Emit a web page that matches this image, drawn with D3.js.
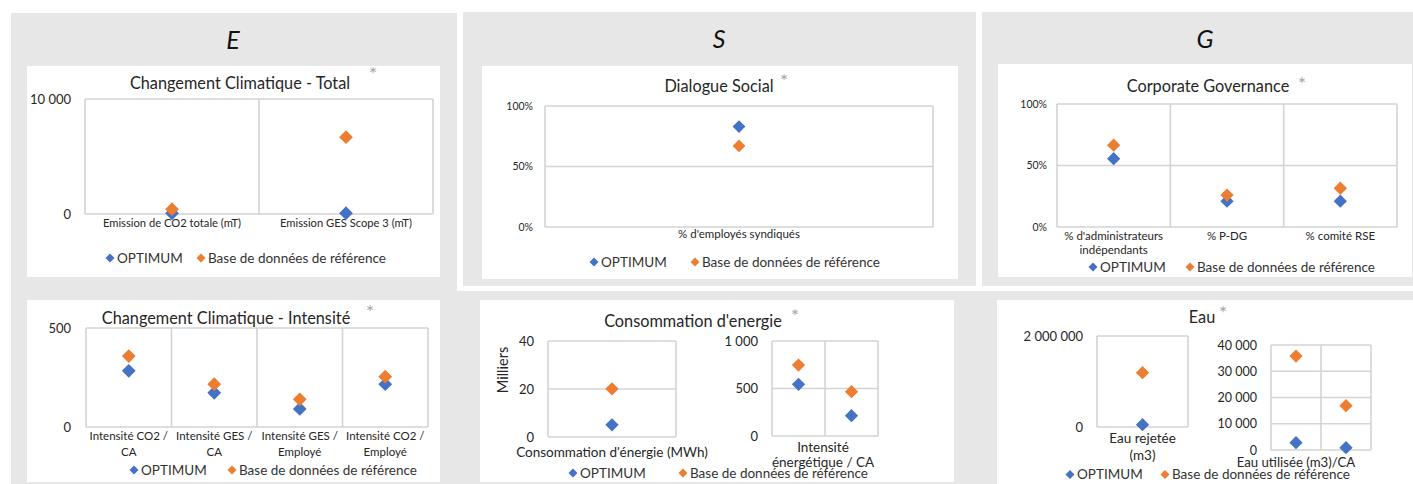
<!DOCTYPE html>
<html><head><meta charset="utf-8">
<script src="https://cdn.jsdelivr.net/npm/d3@7"></script>
<style>
body{margin:0;background:#fff;}
svg{display:block;}
text{font-family:Lato,"Open Sans",sans-serif;fill:#262626;}
</style>
</head><body>
<svg id="c" width="1413" height="484"></svg>
<script>
// ---------------- DATA ----------------
const seriesNames = ["OPTIMUM", "Base de données de référence"];
const seriesColors = ["#4472C4", "#ED7D31"];
const pillarLetters = ["E", "S", "G"];
const chartTitles = ["Changement Climatique - Total", "Dialogue Social", "Corporate Governance",
                     "Changement Climatique - Intensité", "Consommation d'energie", "Eau"];

const totalCategories = [["Emission de CO2 totale (mT)"], ["Emission GES Scope 3 (mT)"]];
const totalOptimum = [60, 70];
const totalReference = [420, 6680];
const totalTicks = [0, 10000];

const socialCategories = [["% d'employés syndiqués"]];
const socialOptimum = [0.83];
const socialReference = [0.67];
const pctTicks = [0, 0.5, 1];

const govCategories = [["% d'administrateurs", "indépendants"], ["% P-DG"], ["% comité RSE"]];
const govOptimum = [0.555, 0.21, 0.21];
const govReference = [0.665, 0.26, 0.315];

const intensityCategories = [["Intensité CO2 /", "CA"], ["Intensité GES /", "CA"], ["Intensité GES /", "Employé"], ["Intensité CO2 /", "Employé"]];
const intensityOptimum = [284, 173, 91, 216];
const intensityReference = [358, 216, 140, 254];
const intensityTicks = [0, 500];

const energyCategories = [["Consommation d'énergie (MWh)"]];
const energyOptimum = [5100];
const energyReference = [20100];
const energyTicks = [0, 20000, 40000];
const energyAxisTitle = "Milliers";

const energyIntCategories = [["Intensité", "énergétique / CA"], [""]];
const energyIntOptimum = [544, 214];
const energyIntReference = [747, 466];
const energyIntTicks = [0, 500, 1000];

const waterCategories = [["Eau rejetée", "(m3)"]];
const waterOptimum = [50000];
const waterReference = [1193000];
const waterTicks = [0, 2000000];

const waterIntCategories = [["Eau utilisée (m3)/CA"], [""]];
const waterIntOptimum = [2800, 900];
const waterIntReference = [35800, 16900];
const waterIntTicks = [0, 10000, 20000, 30000, 40000];

// ---------------- DRAW ----------------
const svg = d3.select("#c");
const grey = "#e7e7e7", gridCol = "#d3d3d3";
const loc = d3.formatLocale({decimal: ",", thousands: " ", grouping: [3], currency: ["", "€"]});
const numFmt = loc.format(",d");
const pctFmt = d3.format(".0%");
const kFmt = v => numFmt(v / 1000);

// backgrounds
[[11, 13, 446, 287], [463, 12, 513, 274], [982, 12, 431, 274], [11, 291, 1402, 193]]
  .forEach(r => svg.append("rect").attr("x", r[0]).attr("y", r[1]).attr("width", r[2]).attr("height", r[3]).attr("fill", grey));
[[27, 66, 413, 211], [482, 66, 476, 213], [998, 64, 414, 213], [27, 300, 413, 182], [480, 300, 474, 182], [997, 300, 416, 184]]
  .forEach(r => svg.append("rect").attr("x", r[0]).attr("y", r[1]).attr("width", r[2]).attr("height", r[3]).attr("fill", "#fff"));

// pillar letters
[[233, 49], [719, 48], [1205, 48]].forEach((p, i) =>
  svg.append("text").attr("x", p[0]).attr("y", p[1]).attr("text-anchor", "middle")
    .attr("font-size", 25).attr("font-style", "italic").style("fill", "#111").text(pillarLetters[i]));

function title(i, cx, by, sx, sy) {
  svg.append("text").attr("x", cx).attr("y", by).attr("text-anchor", "middle").attr("font-size", 16.3)
    .text(chartTitles[i]);
  const fs = 20;
  svg.append("text").attr("x", sx).attr("y", sy + 0.55 * fs).attr("text-anchor", "middle").attr("font-size", fs)
    .style("fill", "#a8a8a8").text("*");
}

function diamond(sel, size) {
  return sel.attr("d", d3.symbol().type(d3.symbolSquare).size(size)());
}

function plot(s) {
  const g = svg.append("g");
  const x = d3.scaleBand().domain(d3.range(s.cats.length)).range([s.x0, s.x1]);
  const y = d3.scaleLinear().domain([0, d3.max(s.ticks)]).range([s.y1, s.y0]);
  // horizontal grid
  g.selectAll(".hg").data(s.ticks).join("line")
    .attr("x1", s.x0).attr("x2", s.x1).attr("y1", d => y(d)).attr("y2", d => y(d))
    .attr("stroke", gridCol).attr("stroke-width", 1.6);
  // vertical lines (band edges)
  const edges = d3.range(s.cats.length + 1).map(i => i < s.cats.length ? x(i) : s.x1);
  g.selectAll(".vg").data(edges).join("line")
    .attr("x1", d => d).attr("x2", d => d).attr("y1", s.y0).attr("y2", s.y1)
    .attr("stroke", gridCol).attr("stroke-width", 1.6);
  // y axis
  const ax = g.append("g").attr("transform", `translate(${s.x0},0)`)
    .call(d3.axisLeft(y).tickValues(s.ticks).tickSize(0).tickPadding(s.pad).tickFormat(s.fmt));
  ax.select(".domain").remove();
  ax.selectAll("text").attr("font-size", s.tickSize).attr("font-family", null).style("fill", "#262626");
  // categories
  s.cats.forEach((lines, i) => {
    const cx = s.labelCx !== undefined ? s.labelCx : x(i) + x.bandwidth() / 2;
    lines.forEach((t, j) => {
      g.append("text").attr("x", cx).attr("y", s.catY + j * s.catGap).attr("text-anchor", "middle")
        .attr("font-size", s.catSize).text(t);
    });
  });
  // points
  [s.opt, s.ref].forEach((vals, k) => {
    g.selectAll(".p" + k).data(vals).join("path")
      .call(diamond, s.mSize || 88)
      .attr("transform", (d, i) => `translate(${x(i) + x.bandwidth() / 2},${y(d)}) rotate(45)`)
      .attr("fill", seriesColors[k]);
  });
  return g;
}

function legend(m1, m2, ly, size) {
  [m1, m2].forEach((mx, k) => {
    svg.append("path").call(diamond, 40).attr("transform", `translate(${mx},${ly}) rotate(45)`).attr("fill", seriesColors[k]);
    svg.append("text").attr("x", mx + 7).attr("y", ly).attr("dy", "0.36em").attr("font-size", size || 13.5)
      .style("fill", "#333").text(seriesNames[k]);
  });
}

// E top
title(0, 240, 89, 373, 70);
plot({x0: 85, x1: 433, y0: 99, y1: 214, cats: totalCategories, opt: totalOptimum, ref: totalReference,
      ticks: totalTicks, fmt: numFmt, pad: 14, tickSize: 13, catY: 227, catGap: 13, catSize: 11.2, mSize: 95});
legend(110, 201, 258);

// S top
title(1, 719, 92, 784, 77);
plot({x0: 545, x1: 933, y0: 106, y1: 227, cats: socialCategories, opt: socialOptimum, ref: socialReference,
      ticks: pctTicks, fmt: pctFmt, pad: 12, tickSize: 10.5, catY: 238, catGap: 13, catSize: 11.5, mSize: 82});
legend(594, 695, 262);

// G top
title(2, 1208, 92, 1302, 80);
plot({x0: 1057, x1: 1397, y0: 104, y1: 227, cats: govCategories, opt: govOptimum, ref: govReference,
      ticks: pctTicks, fmt: pctFmt, pad: 10, tickSize: 10.5, catY: 240, catGap: 13.5, catSize: 11.5, mSize: 88});
legend(1093, 1190, 267);

// E bottom
title(3, 226, 324, 370, 308);
plot({x0: 86, x1: 428, y0: 328, y1: 427, cats: intensityCategories, opt: intensityOptimum, ref: intensityReference,
      ticks: intensityTicks, fmt: numFmt, pad: 15, tickSize: 13, catY: 440, catGap: 16, catSize: 11.5, mSize: 95});
legend(134, 232, 470);

// S bottom
title(4, 693, 327, 795, 312);
plot({x0: 548, x1: 676, y0: 341, y1: 437, cats: energyCategories, opt: energyOptimum, ref: energyReference,
      ticks: energyTicks, fmt: kFmt, pad: 14, tickSize: 13, catY: 457, catGap: 15, catSize: 13.5, mSize: 88});
svg.append("text").attr("transform", "translate(508,370) rotate(-90)").attr("text-anchor", "middle")
  .attr("font-size", 14.5).text(energyAxisTitle);
plot({x0: 772, x1: 878, y0: 341, y1: 436, cats: energyIntCategories, opt: energyIntOptimum, ref: energyIntReference,
      ticks: energyIntTicks, fmt: numFmt, pad: 14, tickSize: 13, catY: 452, catGap: 15, catSize: 13.5, labelCx: 823, mSize: 88});
legend(573, 683, 473);

// G bottom
title(5, 1202, 323, 1223, 309);
plot({x0: 1097, x1: 1188, y0: 336, y1: 427, cats: waterCategories, opt: waterOptimum, ref: waterReference,
      ticks: waterTicks, fmt: numFmt, pad: 14, tickSize: 13, catY: 443, catGap: 17, catSize: 13.5, mSize: 88});
plot({x0: 1271, x1: 1371, y0: 345, y1: 450, cats: waterIntCategories, opt: waterIntOptimum, ref: waterIntReference,
      ticks: waterIntTicks, fmt: numFmt, pad: 14, tickSize: 12.5, catY: 467, catGap: 15, catSize: 13.2, mSize: 88});
legend(1070, 1165, 474.5);
</script>
</body></html>
